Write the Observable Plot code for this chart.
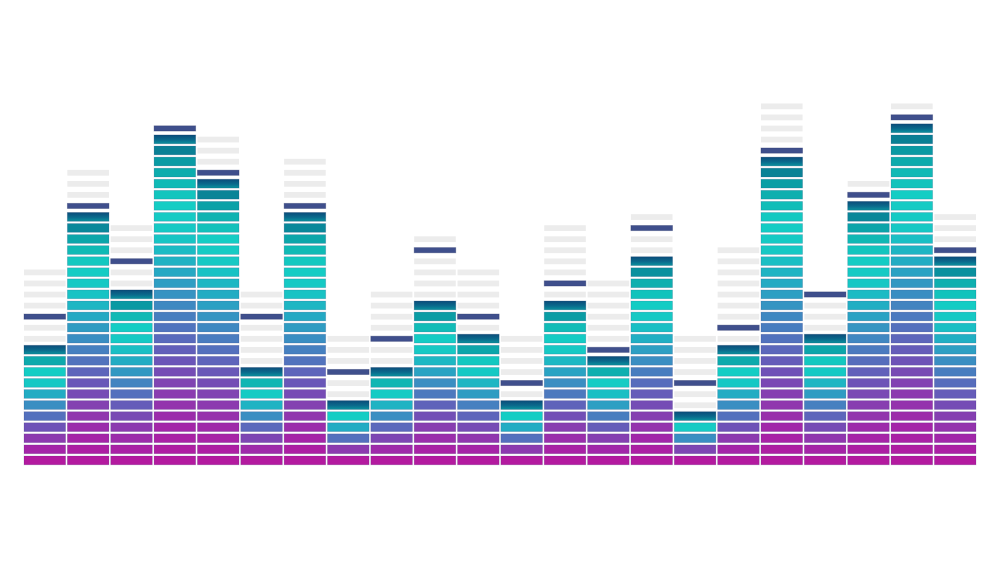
<!DOCTYPE html>
<html>
<head>
<meta charset="utf-8">
<script src="https://cdn.jsdelivr.net/npm/d3@7"></script>
<script src="https://cdn.jsdelivr.net/npm/@observablehq/plot@0.6"></script>
<style>
  html, body { margin: 0; padding: 0; background: #ffffff; }
  #chart svg { display: block; }
</style>
</head>
<body>
<div id="chart"></div>
<script>
// ---- data ----
const bands = ["1","2","3","4","5","6","7","8","9","10","11","12","13","14","15","16","17","18","19","20","21","22"];
// index of the top lit segment (0 = bottom row)
const litTop   = [10, 22, 15, 29, 25,  8, 22,  5,  8, 14, 11,  5, 14,  9, 18,  4, 10, 27, 11, 23, 30, 18];
// row of the peak-hold marker
const peakRow  = [13, 23, 18, 30, 26, 13, 23,  8, 11, 19, 13,  7, 16, 10, 21,  7, 12, 28, 15, 24, 31, 19];
// highest ghost (unlit) segment
const ghostTop = [17, 26, 21, 30, 29, 15, 27, 11, 15, 20, 17, 11, 21, 16, 22, 11, 19, 32, 15, 25, 32, 22];

// colour ramp stops: relative height within a column -> colour
const rampStops  = [0, 0.1, 0.2, 0.3, 0.4, 0.5, 0.6, 0.7, 0.8, 0.87, 0.93, 0.97, 1];
const rampColors = ["#b31a9f", "#a425a8", "#8c3aaf", "#6e52b7", "#5470bd", "#3a8ec2", "#22acc3", "#16c8c4", "#14cdc4", "#10b8b4", "#0a9ca4", "#0a7c93", "#0a6a8c"];

// ---- build tables ----
const body = [], tops = [], ghosts = [], peaks = [];
bands.forEach((b, i) => {
  const L = litTop[i];
  for (let k = 0; k < L; k++) body.push({band: b, k, t: k / L});
  tops.push({band: b, k: L});
  for (let k = L + 1; k <= ghostTop[i]; k++) if (k !== peakRow[i]) ghosts.push({band: b, k});
  peaks.push({band: b, k: peakRow[i]});
});

const LIT = 0.795;   // lit segment height in row units
const chart = Plot.plot({
  width: 1000,
  height: 562,
  margin: 0,
  style: {background: "#ffffff"},
  x: {type: "band", domain: bands, range: [24, 976], paddingInner: 0.04, paddingOuter: 0, round: false, axis: null},
  y: {type: "linear", domain: [0, 40], range: [464.8, 464.8 - 40 * 11.07], axis: null},
  color: {type: "linear", domain: rampStops, range: rampColors, interpolate: "rgb"},
  marks: [
    Plot.barY(ghosts, {x: "band", y1: d => d.k + 0.12, y2: d => d.k + 0.64, fill: "#ececec"}),
    Plot.barY(body, {x: "band", y1: "k", y2: d => d.k + LIT, fill: "t", stroke: "#2b2b70", strokeOpacity: 0.2, strokeWidth: 0.8}),
    Plot.barY(tops, {x: "band", y1: "k", y2: d => d.k + LIT, fill: "url(#topGrad)", stroke: "#123a66", strokeOpacity: 0.3, strokeWidth: 0.8}),
    Plot.barY(peaks, {x: "band", y1: d => d.k + 0.15, y2: d => d.k + 0.62, fill: "#3f4f8c", stroke: "#27346a", strokeOpacity: 0.4, strokeWidth: 0.8})
  ]
});

const svg = d3.select(chart);
const defs = svg.insert("defs", ":first-child");
const g = defs.append("linearGradient").attr("id", "topGrad").attr("x1", 0).attr("y1", 0).attr("x2", 0).attr("y2", 1);
g.append("stop").attr("offset", "0%").attr("stop-color", "#0b4c7a");
g.append("stop").attr("offset", "55%").attr("stop-color", "#0a6a8c");
g.append("stop").attr("offset", "100%").attr("stop-color", "#0a929e");

document.getElementById("chart").appendChild(chart);
</script>
</body>
</html>
